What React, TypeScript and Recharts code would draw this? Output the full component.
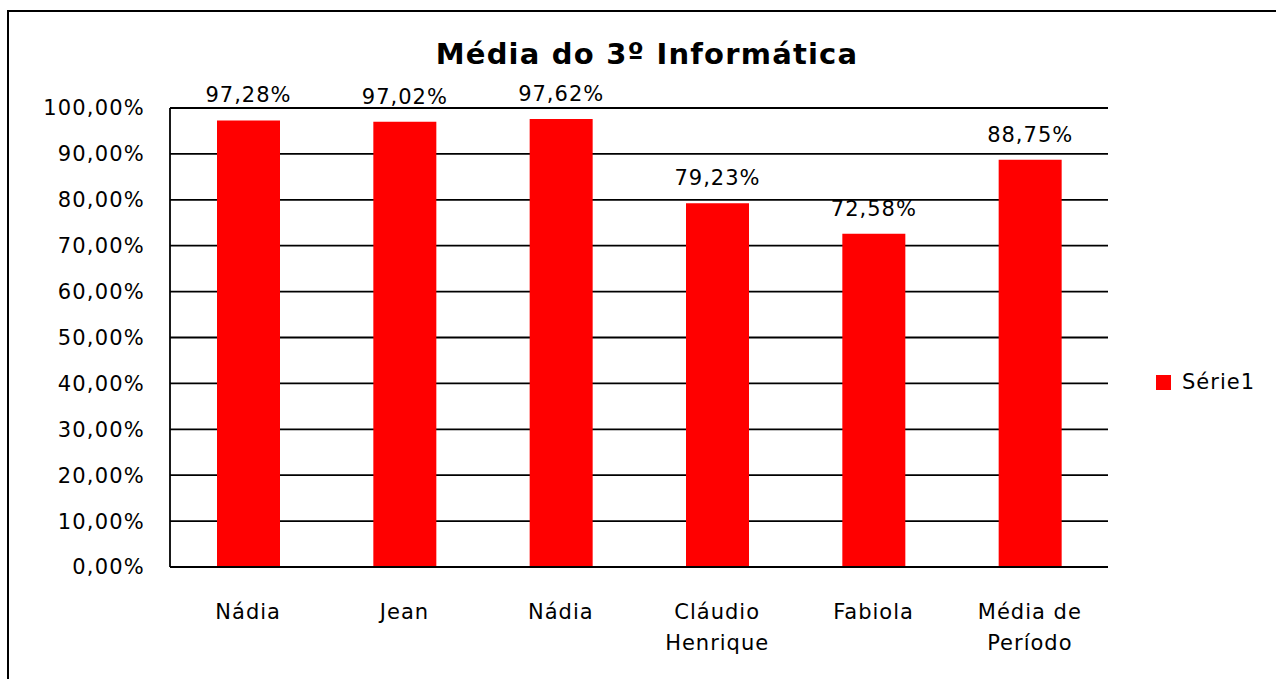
import { Bar, BarChart, CartesianGrid, LabelList, XAxis, YAxis } from "recharts";
import type { ReactElement } from "react";

const categories = ["Nádia", "Jean", "Nádia", "Cláudio Henrique", "Fabiola", "Média de Período"];
const averages = [97.28, 97.02, 97.62, 79.23, 72.58, 88.75];
const yTicks = [0, 10, 20, 30, 40, 50, 60, 70, 80, 90, 100];
const seriesName = "Série1";

const data = categories.map((name, i) => ({ key: `${name}-${i}`, name, value: averages[i] }));

const FONT = "'DejaVu Sans', Verdana, sans-serif";
const pct = (v: number): string => `${v.toFixed(2).replace(".", ",")}%`;

// long names wrap on the last space, like the spreadsheet did
function wrapName(name: string): string[] {
  if (name.length <= 10) return [name];
  const cut = name.lastIndexOf(" ");
  return cut > 0 ? [name.slice(0, cut), name.slice(cut + 1)] : [name];
}

function CategoryTick({ x, y, payload }: any): ReactElement {
  const lines = wrapName(categories[payload.index] ?? String(payload.value));
  return (
    <text x={x} y={y + 52} textAnchor="middle" fontFamily={FONT} fontSize={21} letterSpacing={1} fill="#000">
      {lines.map((line, i) => (
        <tspan key={i} x={x} dy={i === 0 ? 0 : 31}>
          {line}
        </tspan>
      ))}
    </text>
  );
}

export default function App(): ReactElement {
  return (
    <div style={{ position: "absolute", left: 0, top: 0, width: 1276, height: 679, background: "#fff", overflow: "hidden" }}>
      <div
        style={{
          position: "absolute",
          left: 7,
          top: 10,
          width: 1269,
          height: 669,
          borderTop: "2px solid #000",
          borderLeft: "2px solid #000",
        }}
      />
      <div
        style={{
          position: "absolute",
          left: 0,
          top: 34,
          width: 1294,
          textAlign: "center",
          fontFamily: FONT,
          fontWeight: 700,
          fontSize: 29,
          lineHeight: "40px",
          letterSpacing: 1.2,
        }}
      >
        Média do 3º Informática
      </div>
      <BarChart
        width={1276}
        height={679}
        data={data}
        margin={{ top: 108, right: 168, bottom: 0, left: 0 }}
        barSize={63}
        style={{ position: "absolute", left: 0, top: 0 }}
      >
        <CartesianGrid vertical={false} stroke="#000" strokeWidth={1.8} />
        <XAxis
          dataKey="key"
          axisLine={{ stroke: "#000", strokeWidth: 1.8 }}
          tickLine={false}
          tickSize={0}
          tickMargin={0}
          height={112}
          interval={0}
          tick={<CategoryTick />}
        />
        <YAxis
          domain={[0, 100]}
          ticks={yTicks}
          width={170}
          axisLine={{ stroke: "#000", strokeWidth: 1.8 }}
          tickLine={false}
          tickSize={0}
          tickMargin={25}
          tickFormatter={pct}
          tick={{ fill: "#000", fontFamily: FONT, fontSize: 21, letterSpacing: 1.2 }}
        />
        <Bar dataKey="value" name={seriesName} fill="#ff0000" isAnimationActive={false}>
          <LabelList
            dataKey="value"
            position="top"
            offset={18}
            formatter={(v: any) => pct(Number(v))}
            fill="#000"
            fontFamily={FONT}
            fontSize={21}
            letterSpacing={1}
          />
        </Bar>
      </BarChart>
      <div
        style={{
          position: "absolute",
          left: 1156,
          top: 369,
          display: "flex",
          alignItems: "center",
          fontFamily: FONT,
          fontSize: 21,
          letterSpacing: 1,
          lineHeight: "26px",
        }}
      >
        <span style={{ width: 15, height: 15, background: "#ff0000", marginRight: 11 }} />
        <span>{seriesName}</span>
      </div>
    </div>
  );
}
